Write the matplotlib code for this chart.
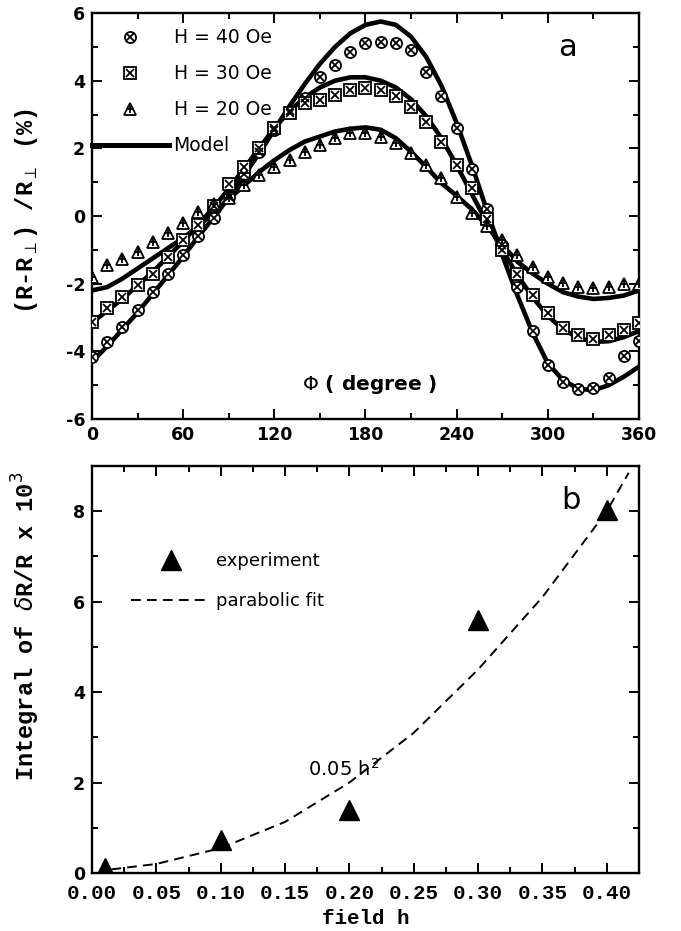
import numpy as np
import matplotlib
matplotlib.use("Agg")
import matplotlib.pyplot as plt
from matplotlib.lines import Line2D
from matplotlib.legend_handler import HandlerTuple
from matplotlib.ticker import MultipleLocator

plt.rcParams["axes.unicode_minus"] = False

# ---- panel a: magnetoresistance vs angle ----
phi = np.arange(0, 361, 10)

exp_40 = [-4.16, -3.72, -3.27, -2.78, -2.24, -1.70, -1.15, -0.60, -0.05, 0.55,
          1.25, 1.90, 2.55, 3.10, 3.50, 4.10, 4.45, 4.85, 5.10, 5.15,
          5.10, 4.90, 4.25, 3.55, 2.60, 1.40, 0.20, -0.85, -2.10, -3.40,
          -4.40, -4.90, -5.12, -5.08, -4.80, -4.15, -3.70]
exp_30 = [-3.12, -2.73, -2.39, -2.04, -1.70, -1.20, -0.71, -0.27, 0.30, 0.95,
          1.45, 2.00, 2.60, 3.05, 3.33, 3.43, 3.58, 3.72, 3.77, 3.72,
          3.55, 3.23, 2.79, 2.20, 1.50, 0.82, -0.10, -1.00, -1.70, -2.34,
          -2.88, -3.32, -3.52, -3.62, -3.52, -3.37, -3.17]
exp_20 = [-1.80, -1.45, -1.27, -1.05, -0.76, -0.51, -0.22, 0.13, 0.35, 0.52,
          0.92, 1.21, 1.46, 1.66, 1.90, 2.10, 2.30, 2.44, 2.45, 2.34,
          2.15, 1.85, 1.50, 1.11, 0.57, 0.10, -0.30, -0.71, -1.15, -1.50,
          -1.79, -1.99, -2.09, -2.14, -2.09, -2.02, -2.00]

model_40 = [-4.30, -3.85, -3.35, -2.85, -2.30, -1.75, -1.20, -0.60, -0.05, 0.55,
            1.20, 1.85, 2.55, 3.25, 3.90, 4.50, 5.00, 5.40, 5.65, 5.75,
            5.65, 5.30, 4.70, 3.85, 2.75, 1.50, 0.15, -1.15, -2.35, -3.45,
            -4.35, -4.85, -5.10, -5.15, -5.00, -4.75, -4.45]
model_30 = [-3.15, -2.80, -2.45, -2.05, -1.65, -1.20, -0.75, -0.25, 0.25, 0.80,
            1.40, 2.00, 2.60, 3.10, 3.50, 3.80, 4.00, 4.10, 4.10, 4.00,
            3.80, 3.45, 2.95, 2.30, 1.50, 0.65, -0.20, -1.00, -1.75, -2.40,
            -2.95, -3.35, -3.60, -3.72, -3.70, -3.58, -3.40]
model_20 = [-2.20, -2.10, -1.85, -1.55, -1.25, -0.95, -0.65, -0.30, 0.10, 0.50,
            0.90, 1.30, 1.65, 1.95, 2.20, 2.35, 2.50, 2.58, 2.62, 2.55,
            2.30, 1.90, 1.45, 0.97, 0.60, 0.20, -0.30, -0.85, -1.35, -1.70,
            -2.00, -2.25, -2.38, -2.45, -2.42, -2.35, -2.20]

# ---- panel b: integral vs field ----
field_exp = [0.01, 0.10, 0.20, 0.30, 0.40]
integral_exp = [0.12, 0.73, 1.39, 5.59, 8.02]
field_fit = [0.015, 0.05, 0.10, 0.15, 0.20, 0.25, 0.30, 0.35, 0.40, 0.417]
integral_fit = [0.08, 0.20, 0.55, 1.13, 2.00, 3.10, 4.50, 6.10, 8.00, 8.85]

sans_b = dict(family="DejaVu Sans", weight="bold")
mono_b = dict(family="Liberation Mono", weight="bold")
plain = "DejaVu Sans"

fig = plt.figure(figsize=(6.81, 9.31), dpi=100)
ax1 = fig.add_axes([0.1351, 0.5499, 0.8032, 0.4361])
ax2 = fig.add_axes([0.1351, 0.0623, 0.8032, 0.4372])

mk = dict(ls="none", mec="k", mew=1.3)
for m_y in (model_40, model_30, model_20):
    ax1.plot(phi, m_y, color="k", lw=3.3, solid_capstyle="butt", zorder=2)

c1, = ax1.plot(phi, exp_40, marker="o", ms=8, mfc="white", zorder=3, **mk)
c2, = ax1.plot(phi, exp_40, marker="x", ms=5.5, zorder=4, **mk)
s1, = ax1.plot(phi, exp_30, marker="s", ms=8, mfc="white", zorder=3, **mk)
s2, = ax1.plot(phi, exp_30, marker="x", ms=5.5, zorder=4, **mk)
t1, = ax1.plot(phi, exp_20, marker="^", ms=8.5, mfc="white", zorder=3, **mk)
t2, = ax1.plot(phi, exp_20, marker="+", ms=6, zorder=4, **mk)
mline = Line2D([], [], color="k", lw=3.6)

ax1.legend([(c1, c2), (s1, s2), (t1, t2), mline],
           ["H = 40 Oe", "H = 30 Oe", "H = 20 Oe", "Model"],
           handler_map={tuple: HandlerTuple(ndivide=1)},
           loc="upper left", bbox_to_anchor=(0.0, 0.962), borderaxespad=0,
           borderpad=0, frameon=False, handlelength=4.1, handletextpad=0.25,
           labelspacing=0.9, numpoints=1, prop=dict(family=plain, size=13.5))

ax1.set_xlim(0, 360)
ax1.set_ylim(-6, 6)
ax1.xaxis.set_major_locator(MultipleLocator(60))
ax1.xaxis.set_minor_locator(MultipleLocator(30))
ax1.yaxis.set_major_locator(MultipleLocator(2))
ax1.yaxis.set_minor_locator(MultipleLocator(1))
ax1.text(0.508, 0.085, r"$\Phi$ ( degree )", transform=ax1.transAxes,
         ha="center", va="center", fontsize=14.5, **sans_b)
ax1.text(0.87, 0.915, "a", transform=ax1.transAxes, ha="center", va="center",
         fontsize=22, family=plain)
ax1.set_ylabel(r"(R-R$_{\perp}$) /R$_{\perp}$ (%)", fontsize=17, va="center", **mono_b)
ax1.yaxis.set_label_coords(-0.12, 0.513)

ax2.plot(field_fit, integral_fit, color="k", lw=1.4, dashes=(5, 3.2))
ax2.plot(field_exp, integral_exp, ls="none", marker="^", ms=14, color="k")
ax2.set_xlim(0, 0.425)
ax2.set_ylim(0, 9)
ax2.xaxis.set_major_locator(MultipleLocator(0.05))
ax2.xaxis.set_minor_locator(MultipleLocator(0.025))
ax2.yaxis.set_major_locator(MultipleLocator(2))
ax2.yaxis.set_minor_locator(MultipleLocator(1))
ax2.xaxis.set_major_formatter(plt.FuncFormatter(lambda v, p: f"{v:.2f}"))

exp_h = Line2D([], [], ls="none", marker="^", ms=14, color="k")
fit_h = Line2D([], [], color="k", lw=1.4, dashes=(5, 3.2))
ax2.legend([exp_h, fit_h], ["experiment", "parabolic fit"],
           loc="upper left", bbox_to_anchor=(0.0713, 0.788), borderaxespad=0,
           borderpad=0, frameon=False, handlelength=4.4, handletextpad=0.3,
           labelspacing=1.2, numpoints=1, prop=dict(family=plain, size=13))
ax2.text(0.46, 0.255, r"0.05 h$^2$", transform=ax2.transAxes, ha="center",
         va="center", fontsize=14, family=plain)
ax2.text(0.875, 0.915, "b", transform=ax2.transAxes, ha="center", va="center",
         fontsize=22, family=plain)
ax2.set_xlabel("field h", fontsize=15, labelpad=4, **mono_b)
ax2.set_ylabel(r"Integral of $\delta$R/R x 10$^3$", fontsize=17, va="center", **mono_b)
ax2.yaxis.set_label_coords(-0.12, 0.607)

for ax in (ax1, ax2):
    for sp in ax.spines.values():
        sp.set_linewidth(1.7)
    ax.tick_params(which="both", direction="in", top=True, right=True, width=1.4)
    ax.tick_params(which="major", length=7, pad=5)
    ax.tick_params(which="minor", length=4)
ax2.tick_params(axis="x", which="major", pad=8)

for lab in ax1.get_xticklabels() + ax1.get_yticklabels() + ax2.get_yticklabels():
    lab.set_fontsize(12.5)
    lab.set_fontweight("bold")
    lab.set_family("DejaVu Sans")
for lab in ax2.get_xticklabels():
    lab.set_fontsize(15)
    lab.set_fontweight("bold")
    lab.set_family("Liberation Mono")

fig.savefig("out.png", dpi=100)
